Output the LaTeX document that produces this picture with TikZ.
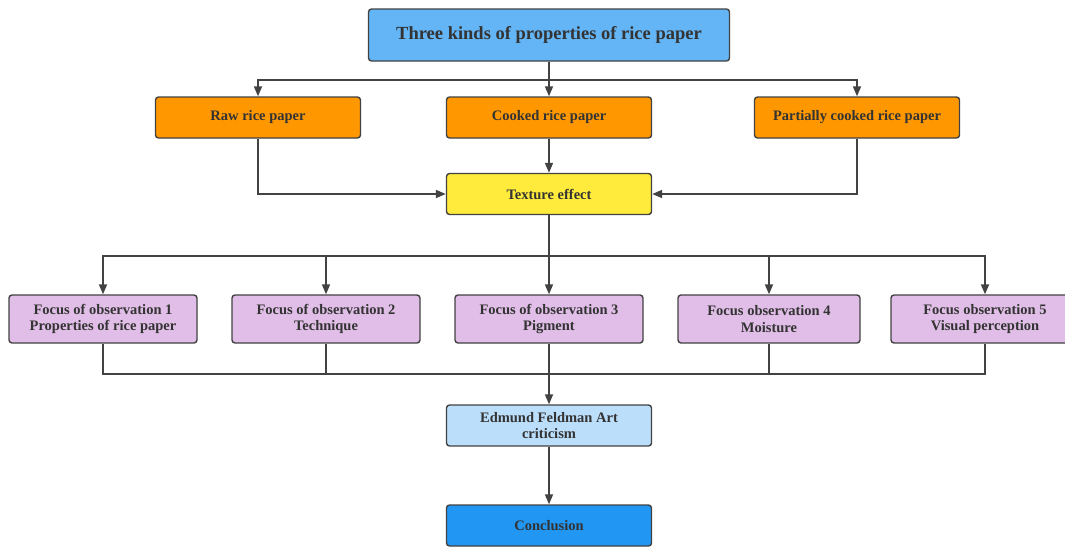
\documentclass[tikz,border=0pt]{standalone}
\usepackage{fontspec}
\setmainfont{Liberation Serif}
\usetikzlibrary{positioning, arrows.meta}

\definecolor{linegray}{HTML}{424242}
\definecolor{textgray}{HTML}{333333}
\definecolor{titleblue}{HTML}{64B5F6}
\definecolor{kindorange}{HTML}{FF9800}
\definecolor{effectyellow}{HTML}{FFEB3B}
\definecolor{focuspurple}{HTML}{E1BEE7}
\definecolor{criticblue}{HTML}{BBDEFB}
\definecolor{endblue}{HTML}{2196F3}

\tikzset{
  box/.style={draw=linegray, line width=1.4pt, rounded corners=3pt, text=textgray,
    align=center, inner sep=2pt, minimum width=205pt, minimum height=41pt,
    font=\bfseries\fontsize{14.5}{16.5}\selectfont},
  focus/.style={box, fill=focuspurple, minimum width=188pt, minimum height=48pt},
  link/.style={draw=linegray, line width=1.7pt}
}

\begin{document}
\begin{tikzpicture}[x=1pt, y=-1pt, >={Triangle[length=10pt, width=8pt]}]
  \useasboundingbox (0,0) rectangle (1065,547);

  % top level
  \node[box, fill=titleblue, minimum width=361pt, minimum height=52pt,
    font=\bfseries\fontsize{18.5}{21}\selectfont] (title) at (549,35) {Three kinds of properties of rice paper};

  % kinds of paper
  \node[box, fill=kindorange] (raw) at (258,117.5) {Raw rice paper};
  \node[box, fill=kindorange] (cooked) at (549,117.5) {Cooked rice paper};
  \node[box, fill=kindorange] (partial) at (857,117.5) {Partially cooked rice paper};

  \node[box, fill=effectyellow] (texture) at (549,194) {Texture effect};

  % focuses of observation
  \node[focus] (f1) at (103,319) {Focus of observation 1\\Properties of rice paper};
  \node[focus] (f2) at (326,319) {Focus of observation 2\\Technique};
  \node[focus] (f3) at (549,319) {Focus of observation 3\\Pigment};
  \node[focus, minimum width=182pt] (f4) at (769,319) {Focus observation 4\\Moisture};
  \node[focus] (f5) at (985,319) {Focus observation 5\\Visual perception};

  \node[box, fill=criticblue] (feldman) at (549,425.5) {Edmund Feldman Art\\criticism};
  \node[box, fill=endblue] (conclusion) at (549,525.5) {Conclusion};

  \coordinate (join) at (549,374);

  \draw[link, ->] (title.south) -- ++(0,18) -| (raw.north);
  \draw[link, ->] (title.south) -- (cooked.north);
  \draw[link, ->] (title.south) -- ++(0,18) -| (partial.north);

  \draw[link, ->] (raw.south) |- (texture.west);
  \draw[link, ->] (cooked.south) -- (texture.north);
  \draw[link, ->] (partial.south) |- (texture.east);

  \foreach \f in {f1,f2,f3,f4,f5}
    \draw[link, ->] (texture.south) -- ++(0,41) -| (\f.north);

  \foreach \f in {f1,f2,f4,f5}
    \draw[link] (\f.south) |- (join);
  \draw[link, ->] (f3.south) -- (feldman.north);

  \draw[link, ->] (feldman.south) -- (conclusion.north);
\end{tikzpicture}
\end{document}
